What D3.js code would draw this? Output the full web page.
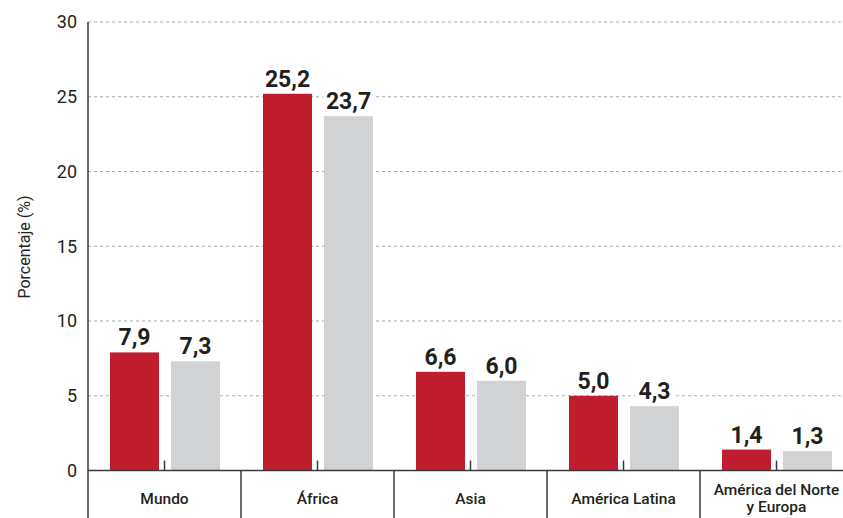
<!DOCTYPE html>
<html>
<head>
<meta charset="utf-8">
<script src="https://cdn.jsdelivr.net/npm/d3@7"></script>
<style>
  body { margin: 0; background: #fff; }
  svg { display: block; font-family: Roboto, "Liberation Sans", sans-serif; }
</style>
</head>
<body>
<svg id="chart" width="843" height="518"></svg>
<script>
// data
const categories = ["Mundo", "África", "Asia", "América Latina", "América del Norte\ny Europa"];
const seriesNames = ["a", "b"];
const valuesA = [7.9, 25.2, 6.6, 5.0, 1.4];
const valuesB = [7.3, 23.7, 6.0, 4.3, 1.3];
const yTicks = [0, 5, 10, 15, 20, 25, 30];
const colors = { a: "#BE1E2D", b: "#D1D2D4" };

const W = 843, H = 518;
const plotLeft = 88, plotTop = 22, base = 470.5;
const ink = "#231F20", axisColor = "#3a3a3a";

const svg = d3.select("#chart");

const x = d3.scaleBand().domain(categories).range([plotLeft, plotLeft + 5 * 153]).padding(0);
const xs = d3.scaleBand().domain(seriesNames).range([22, 132]).paddingInner(12 / 61);
const y = d3.scaleLinear().domain([0, 30]).range([base, plotTop]);

const rows = categories.map((c, i) => ({ cat: c, a: valuesA[i], b: valuesB[i] }));
const fmt = v => d3.format(".1f")(v).replace(".", ",");

// gridlines
svg.append("g").selectAll("line")
  .data(yTicks.filter(t => t > 0))
  .join("line")
  .attr("x1", plotLeft).attr("x2", W)
  .attr("y1", d => y(d)).attr("y2", d => y(d))
  .attr("stroke", "#a7a9ac").attr("stroke-width", 1)
  .attr("stroke-dasharray", "3,3");

const groups = svg.append("g").selectAll("g")
  .data(rows)
  .join("g")
  .attr("transform", d => `translate(${x(d.cat)},0)`);

const pairs = d => seriesNames.map(k => ({ key: k, value: d[k] }));

// label halos go under the bars so they only knock out the gridlines
function labels(sel, cls) {
  return sel.selectAll("text." + cls)
    .data(pairs)
    .join("text")
    .attr("class", cls)
    .attr("x", d => xs(d.key) + xs.bandwidth() / 2)
    .attr("y", d => y(d.value) - 7)
    .attr("text-anchor", "middle")
    .attr("font-size", 23)
    .attr("font-weight", 700)
    .text(d => fmt(d.value));
}
labels(groups, "halo")
  .attr("fill", "#fff")
  .attr("stroke", "#fff").attr("stroke-width", 8);

groups.selectAll("rect")
  .data(pairs)
  .join("rect")
  .attr("x", d => xs(d.key))
  .attr("width", xs.bandwidth())
  .attr("y", d => y(d.value))
  .attr("height", d => base - y(d.value))
  .attr("fill", d => colors[d.key]);

labels(groups, "val").attr("fill", ink);

// small ticks at band centers
svg.append("g").selectAll("line")
  .data(categories)
  .join("line")
  .attr("x1", d => x(d) + x.bandwidth() / 2)
  .attr("x2", d => x(d) + x.bandwidth() / 2)
  .attr("y1", base - 10).attr("y2", base)
  .attr("stroke", axisColor).attr("stroke-width", 1.5);

// separators between categories
svg.append("g").selectAll("line")
  .data(categories.slice(1))
  .join("line")
  .attr("x1", d => x(d)).attr("x2", d => x(d))
  .attr("y1", base).attr("y2", H)
  .attr("stroke", axisColor).attr("stroke-width", 1.5);

// baseline and y axis line
svg.append("line")
  .attr("x1", plotLeft).attr("x2", W).attr("y1", base).attr("y2", base)
  .attr("stroke", axisColor).attr("stroke-width", 1.5);
svg.append("line")
  .attr("x1", plotLeft).attr("x2", plotLeft).attr("y1", plotTop).attr("y2", H)
  .attr("stroke", axisColor).attr("stroke-width", 1.5);

// y tick labels
svg.append("g").selectAll("text")
  .data(yTicks)
  .join("text")
  .attr("x", 77)
  .attr("y", d => y(d))
  .attr("dy", "0.35em")
  .attr("text-anchor", "end")
  .attr("font-size", 18)
  .attr("fill", ink)
  .text(d => d);

// y axis title
svg.append("text")
  .attr("transform", "translate(24,247) rotate(-90)")
  .attr("dy", "0.35em")
  .attr("text-anchor", "middle")
  .attr("font-size", 16)
  .attr("fill", ink)
  .text("Porcentaje (%)");

// category labels
svg.append("g").selectAll("text")
  .data(categories)
  .join("text")
  .attr("text-anchor", "middle")
  .attr("font-size", 15.5)
  .attr("font-weight", 500)
  .attr("fill", ink)
  .each(function(d) {
    const lines = d.split("\n");
    const cx = x(d) + x.bandwidth() / 2;
    const y0 = lines.length === 1 ? 504 : 495;
    d3.select(this).selectAll("tspan")
      .data(lines)
      .join("tspan")
      .attr("x", cx)
      .attr("y", (l, i) => y0 + i * 17)
      .text(l => l);
  });
</script>
</body>
</html>
